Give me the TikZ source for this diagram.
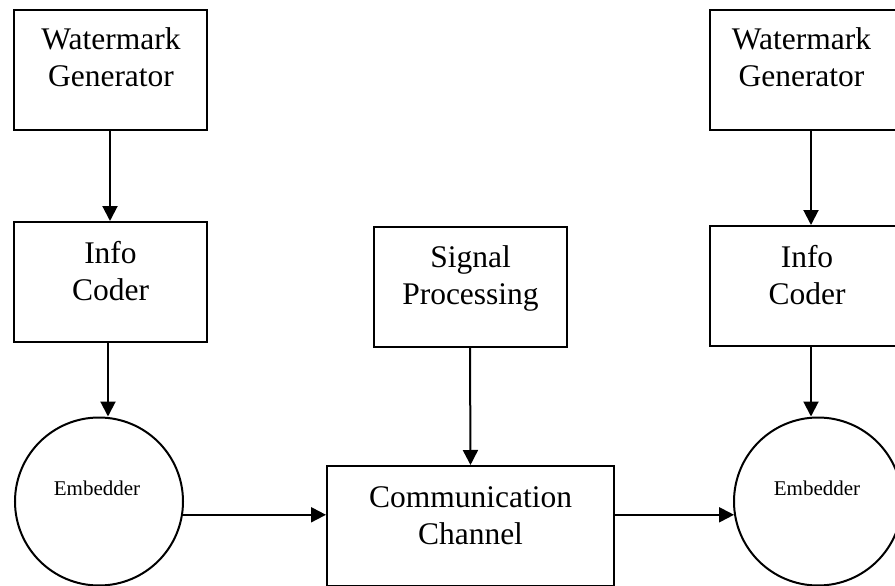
\documentclass[tikz,border=0pt]{standalone}
\usepackage{fontspec}
\setmainfont{Liberation Serif}
\usetikzlibrary{arrows.meta,positioning}
\tikzset{
  blockbox/.style={draw,line width=2pt,minimum width=193pt,minimum height=120pt,inner sep=0pt},
  embedcircle/.style={draw,circle,line width=2pt,minimum size=168pt,inner sep=0pt},
  blocktext/.style={align=center,font=\fontsize{31.5}{37}\selectfont,inner sep=0pt,anchor=base},
  smalltext/.style={font=\fontsize{21}{25}\selectfont,inner sep=0pt,anchor=base},
  flow/.style={-{Triangle[length=15pt,width=15pt]},line width=2pt}
}

\begin{document}
\begin{tikzpicture}[x=1pt,y=-1pt]
  \useasboundingbox (0,0) rectangle (895,586);
  % sender side
  \node[blockbox] (wgl) at (110,70) {};
  \node[blocktext] (wgl-t) at (111,87) {Watermark\\Generator};
  \node[blockbox] (icl) at (110,282) {};
  \node[blocktext] (icl-t) at (110.5,300) {Info\\Coder};
  \node[embedcircle] (eml) at (99,501.5) {};
  \node[smalltext] (eml-t) at (97,495) {Embedder};
  % channel
  \node[blockbox] (sig) at (470,286.5) {};
  \node[blocktext] (sig-t) at (470.5,304) {Signal\\Processing};
  \node[blockbox,minimum width=287pt] (chan) at (470.5,526) {};
  \node[blocktext] (chan-t) at (470.5,544) {Communication\\Channel};
  % receiver side
  \node[blockbox,minimum width=202pt] (wgr) at (811,70) {};
  \node[blocktext] (wgr-t) at (801.5,87) {Watermark\\Generator};
  \node[blockbox,minimum width=202pt] (icr) at (811,286) {};
  \node[blocktext] (icr-t) at (807,304) {Info\\Coder};
  \node[embedcircle] (emr) at (818,501.5) {};
  \node[smalltext] (emr-t) at (817,495) {Embedder};
  % arrows
  \draw[flow] (wgl.south) -- (icl.north);
  \draw[flow] ([xshift=-2pt]icl.south) -- ([xshift=-2pt]icl.south |- eml.north);
  \draw[flow] (eml.-9) -- (eml.-9 -| chan.west);
  \draw[flow] (sig.south) -- (chan.north);
  \draw[flow] (eml.-9 -| chan.east) -- (emr.189);
  \draw[flow] (wgr.south) -- (icr.north);
  \draw[flow] (icr.south) -- (icr.south |- emr.north);
\end{tikzpicture}
\end{document}
